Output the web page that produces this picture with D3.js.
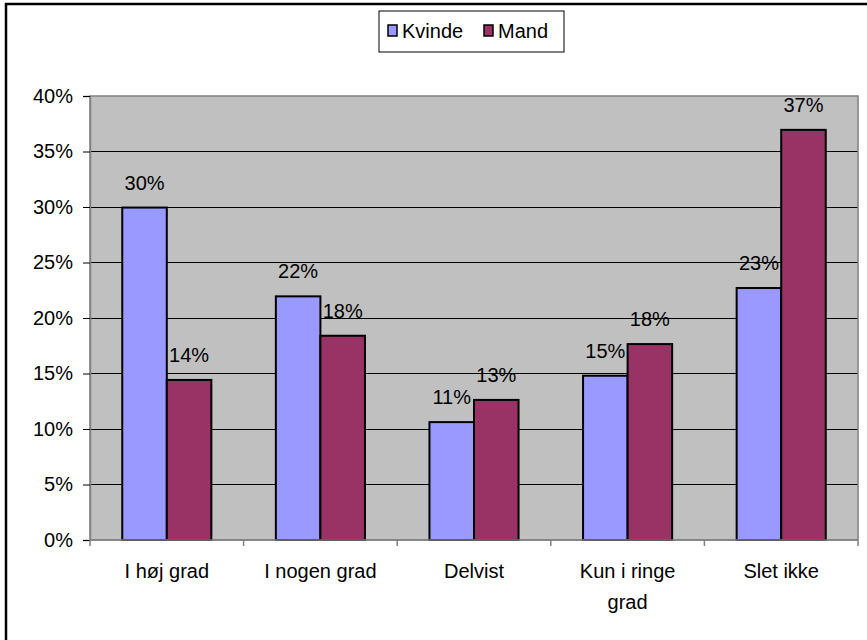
<!DOCTYPE html>
<html>
<head>
<meta charset="utf-8">
<script src="https://cdn.jsdelivr.net/npm/d3@7"></script>
<style>
  html, body { margin: 0; padding: 0; background: #fff; }
  svg { display: block; }
  text { font-family: "Liberation Sans", Arial, sans-serif; fill: #000; }
</style>
</head>
<body>
<svg id="chart" width="867" height="640"></svg>
<script>
// data
const categories = [["I høj grad"], ["I nogen grad"], ["Delvist"], ["Kun i ringe", "grad"], ["Slet ikke"]];
const seriesNames = ["Kvinde", "Mand"];
const kvinde = [29.95, 21.95, 10.62, 14.8, 22.7];
const mand   = [14.42, 18.4, 12.62, 17.65, 36.95];
const yTicks = [0, 5, 10, 15, 20, 25, 30, 35, 40];
const colors = ["#9999ff", "#993366"];

const svg = d3.select("#chart");
const m = { top: 96, right: 9, bottom: 100, left: 90 };
const W = 867 - m.left - m.right, H = 640 - m.top - m.bottom;

// outer chart frame (runs off right and bottom edge)
svg.append("rect").attr("x", 6).attr("y", 4).attr("width", 880).attr("height", 660)
    .attr("fill", "#fff").attr("stroke", "#000").attr("stroke-width", 2.5);

const g = svg.append("g").attr("transform", `translate(${m.left},${m.top})`);

const x0 = d3.scaleBand().domain(d3.range(categories.length)).range([0, W])
    .paddingInner(0.42).paddingOuter(0.21);
const x1 = d3.scaleBand().domain(d3.range(seriesNames.length)).range([0, x0.bandwidth()]);
const y = d3.scaleLinear().domain([0, 40]).range([H, 0]);
const step = x0.step();

// plot area
g.append("rect").attr("width", W).attr("height", H).attr("fill", "#c0c0c0");

// gridlines
g.append("g").selectAll("line").data(yTicks.filter(d => d > 0 && d < 40)).join("line")
    .attr("x1", 0).attr("x2", W)
    .attr("y1", d => y(d)).attr("y2", d => y(d))
    .attr("stroke", "#000").attr("stroke-width", 1).attr("shape-rendering", "crispEdges");

// plot border
g.append("rect").attr("width", W).attr("height", H).attr("fill", "none")
    .attr("stroke", "#808080").attr("stroke-width", 1.5);

// bars
const rows = categories.map((c, i) => [kvinde[i], mand[i]]);
const grp = g.append("g").selectAll("g").data(rows).join("g")
    .attr("transform", (d, i) => `translate(${x0(i)},0)`);
grp.selectAll("rect").data(d => d).join("rect")
    .attr("x", (d, j) => x1(j)).attr("width", x1.bandwidth())
    .attr("y", d => y(d)).attr("height", d => H - y(d))
    .attr("fill", (d, j) => colors[j])
    .attr("stroke", "#000").attr("stroke-width", 2);
grp.selectAll("text").data(d => d).join("text")
    .attr("x", (d, j) => x1(j) + x1.bandwidth() / 2)
    .attr("y", d => y(d) - 18)
    .attr("text-anchor", "middle").attr("font-size", 20)
    .text(d => Math.round(d) + "%");

// y axis
const yAxis = g.append("g").call(d3.axisLeft(y).tickValues(yTicks).tickSize(7).tickPadding(10).tickFormat(d => d + "%"));
yAxis.select(".domain").attr("stroke", "#808080").attr("stroke-width", 1.5);
yAxis.selectAll(".tick line").attr("stroke", "#000");
yAxis.selectAll(".tick text").attr("font-size", 20).attr("font-family", "Liberation Sans, Arial, sans-serif");

// x axis: ticks at category boundaries
g.append("line").attr("x1", 0).attr("x2", W).attr("y1", H).attr("y2", H)
    .attr("stroke", "#808080").attr("stroke-width", 1.5);
g.append("g").selectAll("line").data(d3.range(categories.length + 1)).join("line")
    .attr("x1", i => i * step).attr("x2", i => i * step)
    .attr("y1", H).attr("y2", H + 6)
    .attr("stroke", "#808080").attr("stroke-width", 1.5);
g.append("g").selectAll("text").data(categories).join("text")
    .attr("text-anchor", "middle").attr("font-size", 20)
    .attr("transform", (d, i) => `translate(${x0(i) + x0.bandwidth() / 2},${H + 38})`)
    .selectAll("tspan").data(d => d).join("tspan")
    .attr("x", 0).attr("dy", (d, k) => k === 0 ? 0 : 31)
    .text(d => d);

// legend
const lg = svg.append("g").attr("transform", "translate(379,11)");
lg.append("rect").attr("width", 185).attr("height", 41)
    .attr("fill", "#fff").attr("stroke", "#000").attr("stroke-width", 1);
const items = [{ x: 9, w: 0 }, { x: 105, w: 0 }];
seriesNames.forEach((s, i) => {
    const it = lg.append("g").attr("transform", `translate(${items[i].x},0)`);
    it.append("rect").attr("x", 0).attr("y", 14).attr("width", 9).attr("height", 11)
        .attr("fill", colors[i]).attr("stroke", "#000").attr("stroke-width", 1.5);
    it.append("text").attr("x", 14).attr("y", 27).attr("font-size", 20).text(s);
});
</script>
</body>
</html>
